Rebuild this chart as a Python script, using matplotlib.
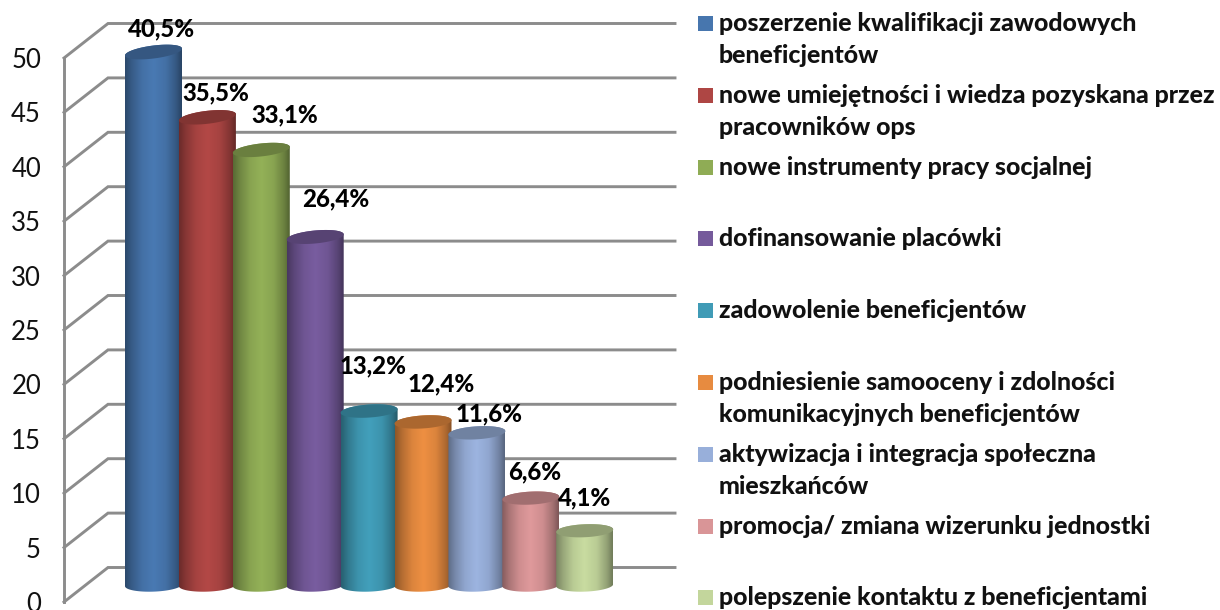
import numpy as np
import matplotlib
matplotlib.use("Agg")
import matplotlib.pyplot as plt
from matplotlib.colors import LinearSegmentedColormap, to_rgb
from matplotlib.patches import Polygon, Rectangle
from matplotlib.transforms import Affine2D

categories = [
    "poszerzenie kwalifikacji zawodowych\nbeneficjentów",
    "nowe umiejętności i wiedza pozyskana przez\npracowników ops",
    "nowe instrumenty pracy socjalnej",
    "dofinansowanie placówki",
    "zadowolenie beneficjentów",
    "podniesienie samooceny i zdolności\nkomunikacyjnych beneficjentów",
    "aktywizacja i integracja społeczna\nmieszkańców",
    "promocja/ zmiana wizerunku jednostki",
    "polepszenie kontaktu z beneficjentami",
]
values = [49, 43, 40, 32, 16, 15, 14, 8, 5]
value_labels = ["40,5%", "35,5%", "33,1%", "26,4%", "13,2%", "12,4%", "11,6%", "6,6%", "4,1%"]
colors = ["#4776AE", "#AE4644", "#8FAC55", "#755A9B", "#409BB6", "#E78B40", "#98AFDA", "#D99597", "#C3D69C"]
y_ticks = [0, 5, 10, 15, 20, 25, 30, 35, 40, 45, 50]
label_dx = [8, 8, 23, 21, 4, 18, 12, 4, 0]
label_dy = [-23, -24, -35, -38, -45, -38, -19, -26, -33]
legend_y = [23, 95, 167, 238, 310, 382, 454, 526, 597]

W, H = 1220, 610
FONT = "Lato"
GRID = "#8C8C8C"
plt.rcParams["font.family"] = [FONT, "DejaVu Sans"]

fig = plt.figure(figsize=(W / 100, H / 100), dpi=100)
L, R, T, B = 64, 675, 58, 602
ax = fig.add_axes([L / W, (H - B) / H, (R - L) / W, (B - T) / H])
step_px, first_px = 53.9, 153.5
px_per_unit = (B - T) / 50
ax.set_xlim((L - first_px) / step_px, (R - first_px) / step_px)
ax.set_ylim(0, 50)
ax.patch.set_alpha(0)
for s in ("top", "right", "bottom"):
    ax.spines[s].set_visible(False)
ax.spines["left"].set_color(GRID)
ax.spines["left"].set_linewidth(2.1)
ax.set_xticks([])
ax.set_yticks(y_ticks)
ax.tick_params(axis="y", length=0, pad=16.5, labelsize=18.5, labelcolor="#111111")

# Oblique side wall and back-wall gridlines
x_front = ax.get_xlim()[0]
x_back = x_front + 44 / step_px
x_end = ax.get_xlim()[1]
rise = 34.5 / px_per_unit
for v in y_ticks:
    ax.plot([x_front, x_back, x_end], [v, v + rise, v + rise], color=GRID, lw=2.1,
            solid_joinstyle="miter", clip_on=False, zorder=1)

# Cylinders
base = 1.55
a = 28.5 / step_px
b = 6.5 / px_per_unit
t = np.linspace(0, 2 * np.pi, 120)


def shade(rgb, f):
    return tuple(min(1, c * f) for c in rgb)


for i, (v, col) in enumerate(zip(values, colors)):
    rgb = np.array(to_rgb(col))
    top = v + base
    s_top = (2 + 0.1 * v) / 2 / px_per_unit
    s_bot = 1 / px_per_unit
    low = np.linspace(np.pi, 2 * np.pi, 60)
    up = np.linspace(0, np.pi, 60)
    xs = np.r_[i + a * np.cos(low), i + a * np.cos(up)]
    ys = np.r_[base + b * np.sin(low) + s_bot * np.cos(low),
               top + b * np.sin(up) + s_top * np.cos(up)]
    z = 3 + i
    clip = Polygon(np.c_[xs, ys], closed=True, transform=ax.transData, facecolor="none", edgecolor="none")
    cmap = LinearSegmentedColormap.from_list(
        "c", [(0, shade(rgb, 0.62)), (0.12, shade(rgb, 0.78)), (0.3, shade(rgb, 0.95)),
              (0.5, shade(rgb, 1.03)), (0.72, shade(rgb, 0.95)), (0.9, shade(rgb, 0.75)),
              (1, shade(rgb, 0.58))])
    grad = np.linspace(0, 1, 120).reshape(1, -1)
    im = ax.imshow(grad, cmap=cmap, aspect="auto", vmin=0, vmax=1,
                   extent=(i - a, i + a, base - 2 * b, top + 2 * b), zorder=z, interpolation="bilinear")
    im.set_clip_box(fig.bbox)
    im.set_clip_path(clip)
    ax.add_patch(Polygon(np.c_[i + a * np.cos(t), top + b * np.sin(t) + s_top * np.cos(t)],
                         closed=True, facecolor=shade(rgb, 0.74), edgecolor="none",
                         zorder=z + 0.5, clip_on=False))
    ax.annotate(value_labels[i], xy=(i, top), xytext=(label_dx[i] * 0.72, -label_dy[i] * 0.72),
                textcoords="offset points", ha="center", va="center",
                fontsize=17.3, fontweight=900, color="black", zorder=30, annotation_clip=False)

ax.set_xlim((L - first_px) / step_px, (R - first_px) / step_px)
ax.set_ylim(0, 50)

# Legend, positioned in pixels from the top-left corner
px = Affine2D().scale(1, -1).translate(0, H)
for y, name, col in zip(legend_y, categories, colors):
    fig.add_artist(Rectangle((698, y - 7.5), 15, 15, facecolor=col, edgecolor="none", transform=px))
    for k, line in enumerate(name.split("\n")):
        fig.text(719, y + 8 + 32 * k, line, transform=px, ha="left", va="baseline",
                 fontsize=17.9, fontweight=900, color="#111111")

fig.savefig("out.png", dpi=100)
